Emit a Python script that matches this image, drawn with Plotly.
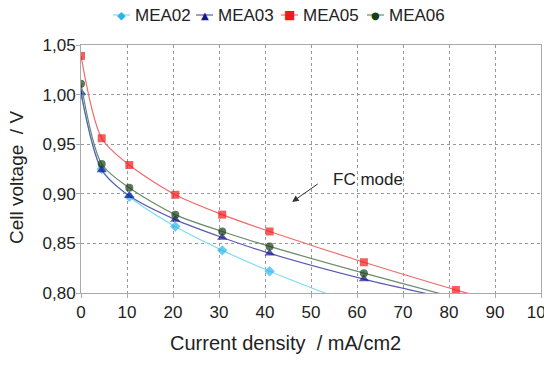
import plotly.graph_objects as go

# Measured points (current density mA/cm2, cell voltage V)
mea02_x = [0, 4.5, 10.5, 20.5, 30.7, 41]
mea02_y = [1.000, 0.925, 0.897, 0.867, 0.843, 0.822]
mea03_x = [0, 4.5, 10.5, 20.5, 30.7, 41, 61.5]
mea03_y = [1.002, 0.924, 0.898, 0.874, 0.856, 0.840, 0.814]
mea05_x = [0, 4.5, 10.5, 20.5, 30.7, 41, 61.5, 81.5]
mea05_y = [1.039, 0.956, 0.929, 0.899, 0.879, 0.862, 0.831, 0.803]
mea06_x = [0, 4.5, 10.5, 20.5, 30.7, 41, 61.5]
mea06_y = [1.011, 0.930, 0.906, 0.879, 0.862, 0.847, 0.820]

# Trend-line end points (where each curve leaves the plot)
end02 = (54.7, 0.797)
end03 = (75.5, 0.799)
end05 = (86.3, 0.797)
end06 = (80.0, 0.797)

series = [
    ("MEA02", mea02_x, mea02_y, end02, "#29b6ea", "#7fdcf0", "diamond", 8, "\u25C6", 11),
    ("MEA03", mea03_x, mea03_y, end03, "#14148a", "#5a5ab4", "triangle-up", 9, "\u25B2", 10),
    ("MEA05", mea05_x, mea05_y, end05, "#f01a1a", "#f06a6a", "square", 8, "\u25A0", 12),
    ("MEA06", mea06_x, mea06_y, end06, "#173f17", "#6a8a6a", "circle", 8, "\u25CF", 10),
]

# page body has an 8px offset: figure is drawn from page pixel (8, 8)
OFF = 8
FIG_W, FIG_H = 552 - OFF, 365 - OFF
PL, PR, PT, PB = 81, 541, 45, 293  # plot area edges in page pixels


def px(x):
    return (x - PL) / (PR - PL)


def py(y):
    return (PB - y) / (PB - PT)


fig = go.Figure()
for name, xs, ys, end, mcol, lcol, sym, msz, glyph, gsz in series:
    fx = list(xs) + [end[0]]
    fy = list(ys) + [end[1]]
    sizes = [msz] * len(xs) + [0]
    fig.add_trace(go.Scatter(
        x=fx, y=fy, name=name, mode="lines+markers", showlegend=False,
        line=dict(color=lcol, width=1.2, shape="spline", smoothing=0.8),
        marker=dict(color=mcol, symbol=sym, size=sizes, line=dict(width=0)),
    ))

# custom legend at the top (page pixel positions of each entry's start)
legend_starts = [113, 196, 281, 367]
LEG_Y = 15
for (name, xs, ys, end, mcol, lcol, sym, msz, glyph, gsz), x0 in zip(series, legend_starts):
    fig.add_shape(type="line", xref="paper", yref="paper",
                  x0=px(x0), x1=px(x0 + 17), y0=py(LEG_Y), y1=py(LEG_Y),
                  line=dict(color=lcol, width=1.2))
    fig.add_annotation(x=px(x0 + 8.5), y=py(LEG_Y), xref="paper", yref="paper",
                       text=glyph, showarrow=False, font=dict(size=gsz, color=mcol,
                       family="DejaVu Sans"), xanchor="center", yanchor="middle")
    fig.add_annotation(x=px(x0 + 20), y=py(LEG_Y), xref="paper", yref="paper",
                       text=name, showarrow=False, font=dict(size=17, color="#222222"),
                       xanchor="left", yanchor="middle")

fig.add_annotation(
    x=45.9, y=0.8918, ax=51.8, ay=0.911, xref="x", yref="y", axref="x", ayref="y",
    text="", showarrow=True, arrowhead=2, arrowsize=1.3, arrowwidth=1, arrowcolor="#333333",
)
fig.add_annotation(
    x=62.3, y=0.914, xref="x", yref="y", text="FC mode", showarrow=False,
    font=dict(size=17, color="#222222"),
)
# axis titles
fig.add_annotation(
    x=px(285), y=py(343), xref="paper", yref="paper", text="Current density  / mA/cm2",
    showarrow=False, font=dict(size=20, color="#222222"), xanchor="center", yanchor="middle",
)
fig.add_annotation(
    x=px(16), y=py(178), xref="paper", yref="paper", text="Cell voltage  / V", textangle=-90,
    showarrow=False, font=dict(size=19, color="#222222"), xanchor="center", yanchor="middle",
)

axis_common = dict(
    showgrid=True, gridcolor="#999999", griddash="dot", gridwidth=1,
    showline=True, linecolor="#aaaaaa", linewidth=1, mirror=True,
    ticks="outside", ticklen=4, tickcolor="#aaaaaa",
    zeroline=False, tickfont=dict(size=17, color="#222222"),
    automargin=False,
)

fig.update_xaxes(range=[0, 100], dtick=10, tick0=0, ticklabeloverflow="allow", **axis_common)
fig.update_yaxes(range=[0.80, 1.05], dtick=0.05, tick0=0.8, tickformat=".2f",
                 ticklabelstandoff=-3, **axis_common)

fig.update_layout(
    width=FIG_W, height=FIG_H,
    margin=dict(l=PL - OFF, r=FIG_W - (PR - OFF), t=PT - OFF, b=FIG_H - (PB - OFF),
                autoexpand=False),
    paper_bgcolor="white", plot_bgcolor="white",
    separators=", ",
    font=dict(family="Liberation Sans, Arial, sans-serif", color="#222222"),
    showlegend=False,
)

fig.write_html("out.html")
